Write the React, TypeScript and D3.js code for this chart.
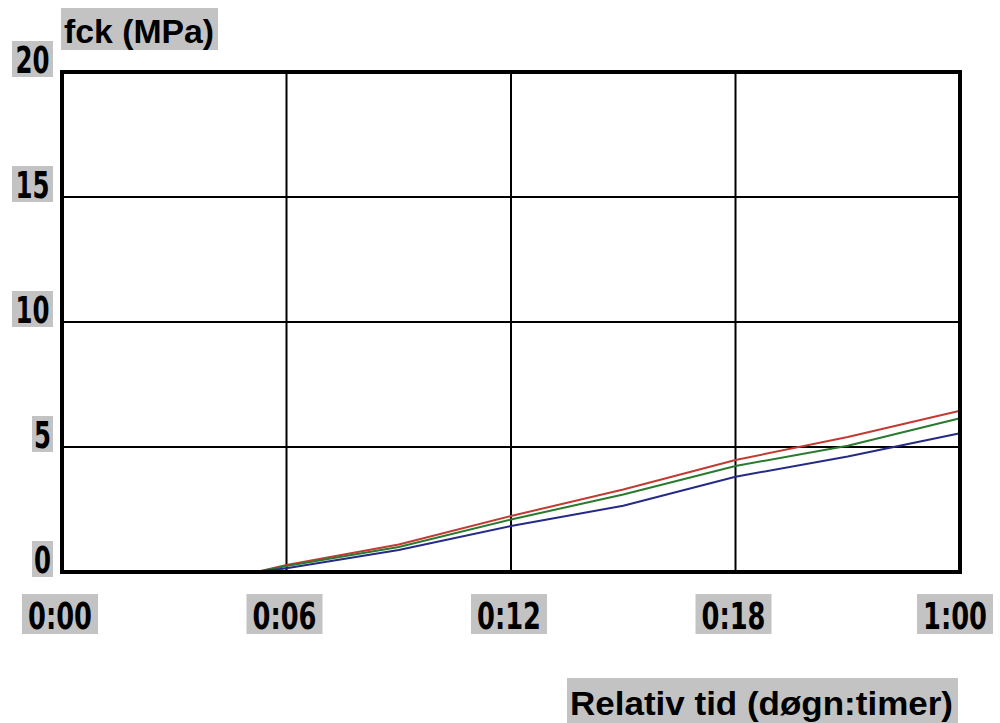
import React from "react";
import { scaleLinear, line } from "d3";

const hours = [5.2, 6, 9, 12, 15, 18, 21, 24];
const redSeries = [0, 0.28, 1.1, 2.24, 3.3, 4.48, 5.4, 6.45];
const greenSeries = [0, 0.24, 1.0, 2.1, 3.1, 4.24, 5.05, 6.15];
const blueSeries = [0, 0.15, 0.88, 1.84, 2.65, 3.81, 4.62, 5.55];

const yTicks = [0, 5, 10, 15, 20];
const xTicks = [0, 6, 12, 18, 24];
const xTickLabels = ["0:00", "0:06", "0:12", "0:18", "1:00"];

const series = [
  { name: "rød", values: redSeries, color: "#c23a32" },
  { name: "grøn", values: greenSeries, color: "#2a7a2e" },
  { name: "blå", values: blueSeries, color: "#242a86" },
];

const W = 1000;
const H = 723;
const m = { top: 72, right: 40, bottom: 151, left: 62 };
const LABEL_BG = "#c3c3c3";
const FONT = "'Liberation Sans Narrow', 'DejaVu Sans Condensed', 'Liberation Sans', sans-serif";

export default function App() {
  const x = scaleLinear().domain([0, 24]).range([m.left, W - m.right]);
  const y = scaleLinear().domain([0, 20]).range([H - m.bottom, m.top]);

  const path = line<number>()
    .x((_, i) => x(hours[i]))
    .y((d) => y(d));

  return (
    <svg
      width={W}
      height={H}
      style={{ position: "absolute", left: 0, top: 0, background: "#fff" }}
    >
      {/* grid */}
      {yTicks.slice(1, -1).map((t) => (
        <line key={"gy" + t} x1={x(0)} x2={x(24)} y1={y(t)} y2={y(t)} stroke="#000" strokeWidth={2} />
      ))}
      {xTicks.slice(1, -1).map((t) => (
        <line key={"gx" + t} x1={x(t)} x2={x(t)} y1={y(0)} y2={y(20)} stroke="#000" strokeWidth={2} />
      ))}

      {/* series */}
      {series.map((s) => (
        <path key={s.name} d={path(s.values) ?? ""} fill="none" stroke={s.color} strokeWidth={2} />
      ))}

      {/* frame */}
      <rect
        x={x(0)}
        y={y(20)}
        width={x(24) - x(0)}
        height={y(0) - y(20)}
        fill="none"
        stroke="#000"
        strokeWidth={4}
      />

      {/* y tick labels */}
      {yTicks.map((t) => {
        const label = String(t);
        const bw = label.length * 20 + 1;
        const bx = 53 - bw;
        const by = y(t) + 7 - 38;
        return (
          <g key={"yl" + t}>
            <rect x={bx} y={by} width={bw} height={36} fill={LABEL_BG} />
            <text
              x={bx + bw / 2}
              y={by + 32}
              textAnchor="middle"
              fontFamily={FONT}
              fontWeight="bold"
              fontSize={37}
              textLength={label.length * 17}
              lengthAdjust="spacingAndGlyphs"
              fill="#000"
            >
              {label}
            </text>
          </g>
        );
      })}

      {/* x tick labels */}
      {xTicks.map((t, i) => {
        const cx = Math.min(x(t) - 2, W - 45);
        return (
          <g key={"xl" + t}>
            <rect x={cx - 38} y={594} width={76} height={40} fill={LABEL_BG} />
            <text
              x={cx}
              y={629}
              textAnchor="middle"
              fontFamily={FONT}
              fontWeight="bold"
              fontSize={37}
              textLength={64}
              lengthAdjust="spacingAndGlyphs"
              fill="#000"
            >
              {xTickLabels[i]}
            </text>
          </g>
        );
      })}

      {/* axis titles */}
      <rect x={61} y={8} width={157} height={42} fill={LABEL_BG} />
      <text
        x={64}
        y={43}
        fontFamily="'Liberation Sans', Arial, sans-serif"
        fontWeight="bold"
        fontSize={33}
        textLength={150}
        lengthAdjust="spacingAndGlyphs"
        fill="#000"
      >
        fck (MPa)
      </text>

      <rect x={567} y={678} width={391} height={45} fill={LABEL_BG} />
      <text
        x={570}
        y={715}
        fontFamily="'Liberation Sans', Arial, sans-serif"
        fontWeight="bold"
        fontSize={33}
        textLength={383}
        lengthAdjust="spacingAndGlyphs"
        fill="#000"
      >
        Relativ tid (døgn:timer)
      </text>
    </svg>
  );
}
